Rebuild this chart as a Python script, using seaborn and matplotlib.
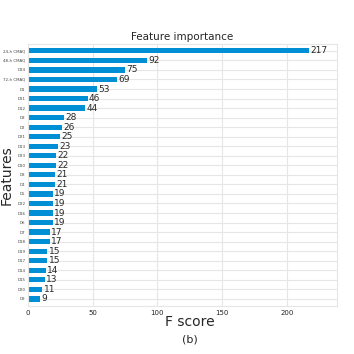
import matplotlib
matplotlib.use("Agg")
import matplotlib.pyplot as plt
import seaborn as sns
import pandas as pd

# feature importance (F score), top to bottom
features = ["24-h CMAQ", "48-h CMAQ", "D24", "72-h CMAQ", "D1", "D11", "D12", "D3",
            "D2", "D21", "D13", "D23", "D10", "D8", "D4", "D5", "D22", "D16", "D6",
            "D7", "D18", "D19", "D17", "D14", "D15", "D20", "D9"]
scores = [217, 92, 75, 69, 53, 46, 44, 28, 26, 25, 23, 22, 22, 21, 21, 19, 19, 19, 19,
          17, 17, 15, 15, 14, 13, 11, 9]
xticks = [0, 50, 100, 150, 200]

df = pd.DataFrame({"feature": features, "score": scores})

sns.set_style("whitegrid", {"grid.color": ".9", "axes.edgecolor": ".9"})

fig = plt.figure(figsize=(3.54, 3.54), dpi=100)
ax = fig.add_axes([0.079, 0.136, 0.873, 0.740])

sns.barplot(data=df, x="score", y="feature", orient="h", color="#008fd5",
            saturation=1, width=0.55, linewidth=0, ax=ax)

# value labels next to the bars
for i, v in enumerate(scores):
    ax.text(v + 1, i, str(v), va="center", fontsize=6.5)

ax.set_xlim(0, max(scores) * 1.1)
ax.set_ylim(len(features) - 0.27, -0.73)
ax.set_xticks(xticks)
ax.tick_params(axis="x", labelsize=5, length=0, pad=3)
ax.tick_params(axis="y", labelsize=2.9, length=0, pad=1.8, labelcolor="#444444")
ax.grid(True, axis="both", linewidth=0.8)
ax.set_axisbelow(True)

ax.set_title("Feature importance", fontsize=7.5, pad=3)
ax.set_xlabel("F score", fontsize=10)
ax.set_ylabel("Features", fontsize=10)
ax.xaxis.set_label_coords(0.524, -0.036)
ax.yaxis.set_label_coords(-0.045, 0.5)

fig.text(0.535, 0.04, "(b)", ha="center", va="center", fontsize=8)

fig.savefig("out.png", dpi=100)
